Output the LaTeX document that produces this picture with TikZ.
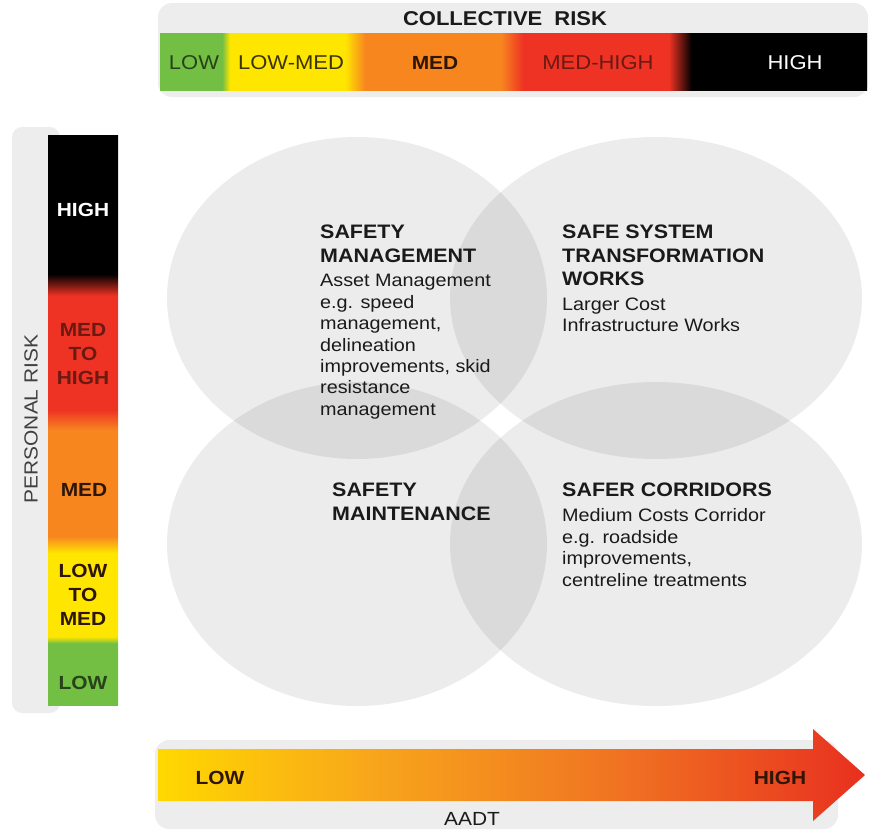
\documentclass[tikz,border=0pt]{standalone}
\usepackage{fontspec}
\setmainfont{Liberation Sans}[FakeStretch=1.1]
\usetikzlibrary{positioning,shapes.geometric}
\definecolor{rkGreen}{HTML}{72BF44}
\definecolor{rkYellow}{HTML}{FFE600}
\definecolor{rkOrange}{HTML}{F7861F}
\definecolor{rkRed}{HTML}{EE3224}
\definecolor{rkBlack}{HTML}{000000}
\definecolor{aadtA}{HTML}{FFD800}
\definecolor{aadtB}{HTML}{F8A61B}
\definecolor{aadtC}{HTML}{F07522}
\definecolor{aadtD}{HTML}{E8301F}
\definecolor{txt}{HTML}{1A1A1A}
\definecolor{pnl}{HTML}{EDEDED}
\definecolor{dkRed}{HTML}{6A1A12}
\definecolor{dkBrn}{HTML}{2E1606}
\definecolor{dkOlv}{HTML}{3B3305}
\definecolor{dkGrn}{HTML}{28421A}
\pgfdeclarehorizontalshading{collective}{100bp}{color(0bp)=(rkGreen); color(29.4bp)=(rkGreen);
  color(29.95bp)=(rkYellow); color(38.1bp)=(rkYellow); color(39.5bp)=(rkOrange); color(49.1bp)=(rkOrange);
  color(50.7bp)=(rkRed); color(61bp)=(rkRed); color(62.6bp)=(rkBlack); color(100bp)=(rkBlack)}
\pgfdeclareverticalshading{personal}{100bp}{color(0bp)=(rkGreen); color(30.4bp)=(rkGreen);
  color(31bp)=(rkYellow); color(38.3bp)=(rkYellow); color(39.8bp)=(rkOrange); color(49.1bp)=(rkOrange);
  color(50.9bp)=(rkRed); color(60.9bp)=(rkRed); color(62.8bp)=(rkBlack); color(100bp)=(rkBlack)}
\pgfdeclarehorizontalshading{aadt}{100bp}{color(0bp)=(aadtA); color(25bp)=(aadtA); color(40bp)=(aadtB);
  color(57bp)=(aadtC); color(75bp)=(aadtD); color(100bp)=(aadtD)}
\tikzset{
  circ/.style={ellipse,draw=none,fill=black,fill opacity=.075,inner sep=0pt},
  pnl/.style={fill=pnl,rounded corners=14pt},
  hd/.style={font=\fontsize{19.5}{23.5}\selectfont\bfseries,text=txt,align=left,inner sep=0pt,anchor=north west},
  bd/.style={font=\fontsize{18}{21.4}\selectfont,text=txt,align=left,inner sep=0pt},
  clbl/.style={font=\fontsize{20}{24}\selectfont,inner sep=0pt},
  plbl/.style={font=\fontsize{19}{24}\selectfont\bfseries,align=center,inner sep=0pt},
  albl/.style={font=\fontsize{19}{24}\selectfont\bfseries,text=dkBrn,inner sep=0pt},
}
\begin{document}
\begin{tikzpicture}[x=1pt,y=-1pt]
  \useasboundingbox (0,0) rectangle (872,831);
  \fill[pnl] (158,3) rectangle (868,97);
  \fill[pnl,rounded corners=10pt] (12,127) rectangle (60,713);
  \fill[pnl] (155,740) rectangle (838,829);

  \node[circ,minimum width=380pt,minimum height=322pt] (cTL) at (357,298) {};
  \node[circ,minimum width=412pt,minimum height=322pt] (cTR) at (656,298) {};
  \node[circ,minimum width=380pt,minimum height=324pt] (cBL) at (357,544) {};
  \node[circ,minimum width=412pt,minimum height=324pt] (cBR) at (656,544) {};

  \shade[shading=collective] (160,33) rectangle (867,90);
  \node[font=\fontsize{20}{24}\selectfont\bfseries,text=txt] (cTitle) at (505,19) {COLLECTIVE\hspace{.6em}RISK};
  \node[clbl,text=dkGrn] (cLow) at (194,63) {LOW};
  \node[clbl,text=dkOlv] (cLowMed) at (291,63) {LOW-MED};
  \node[clbl,text=dkBrn,font=\fontsize{19}{24}\selectfont\bfseries] (cMed) at (435,63) {MED};
  \node[clbl,text=dkRed] (cMedHigh) at (598,63) {MED-HIGH};
  \node[clbl,text=white] (cHigh) at (795,63) {HIGH};

  \shade[shading=personal] (48,135) rectangle (118,705);
  \node[plbl,text=white] (pHigh) at (83,210) {HIGH};
  \node[plbl,text=dkRed] (pMedHigh) at (83,354) {MED\\TO\\HIGH};
  \node[plbl,text=dkBrn] (pMed) at (84,490) {MED};
  \node[plbl,text=dkBrn] (pLowMed) at (83,595) {LOW\\TO\\MED};
  \node[plbl,text=dkGrn] (pLow) at (83,683) {LOW};
  \node[rotate=90,font=\fontsize{19}{20}\selectfont,text=black!75] (pTitle) at (31,419) {PERSONAL RISK};

  \shade[shading=aadt] (158,749) -- (813,749) -- (813,729) -- (865,775) -- (813,821) -- (813,801) -- (158,801) -- cycle;
  \node[albl] (aLow) at (220,778) {LOW};
  \node[albl] (aHigh) at (780,778) {HIGH};
  \node[font=\fontsize{19}{24}\selectfont,text=txt,inner sep=0pt] (aTitle) at (472,819) {AADT};

  \node[hd] (smH) at (320,225) {SAFETY\\MANAGEMENT};
  \node[bd,below=11.5pt of smH.south west,anchor=north west] (smB)
    {Asset Management\\e.g. speed\\management,\\delineation\\improvements, skid\\resistance\\management};
  \node[hd] (stH) at (562,225) {SAFE SYSTEM\\TRANSFORMATION\\WORKS};
  \node[bd,below=11.5pt of stH.south west,anchor=north west] (stB) {Larger Cost\\Infrastructure Works};
  \node[hd] (mtH) at (332,483) {SAFETY\\MAINTENANCE};
  \node[hd] (scH) at (562,483) {SAFER CORRIDORS};
  \node[bd,below=11.5pt of scH.south west,anchor=north west] (scB)
    {Medium Costs Corridor\\e.g. roadside\\improvements,\\centreline treatments};
\end{tikzpicture}
\end{document}
